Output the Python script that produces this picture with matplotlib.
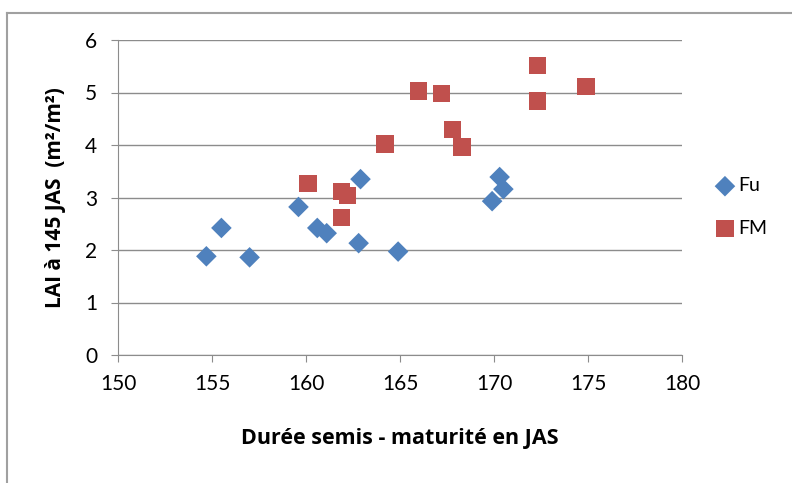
import matplotlib
matplotlib.use('Agg')
import matplotlib.pyplot as plt
from matplotlib.lines import Line2D

BLUE = '#4F81BD'; RED = '#C0504D'; GRID = '#8C8C8C'
plt.rcParams['font.family'] = ['Lato', 'DejaVu Sans']
TITLE_FONT = ['Open Sans', 'DejaVu Sans']

fu_x = [154.7, 155.5, 157.0, 159.6, 160.6, 161.1, 162.8, 162.9, 164.9, 169.9, 170.3, 170.5]
fu_y = [1.88, 2.42, 1.86, 2.82, 2.42, 2.32, 2.13, 3.35, 1.97, 2.93, 3.39, 3.16]
fm_x = [160.1, 161.9, 161.9, 162.2, 164.2, 166.0, 167.2, 167.8, 168.3, 172.3, 172.3, 174.9]
fm_y = [3.27, 3.12, 2.62, 3.04, 4.02, 5.03, 4.98, 4.29, 3.96, 5.52, 4.84, 5.11]

fig = plt.figure(figsize=(7.92, 4.83), dpi=100)
ax = fig.add_axes([118/792, 1-355/483, (682-118)/792, (355-40)/483])

ax.scatter(fu_x, fu_y, marker='D', s=110, color=BLUE, edgecolors='none', label='Fu', zorder=3)
ax.scatter(fm_x, fm_y, marker='s', s=155, color=RED, edgecolors='none', label='FM', zorder=3)

ax.set_xlim(150, 180); ax.set_ylim(0, 6)
ax.set_xticks(range(150, 181, 5)); ax.set_yticks(range(0, 7))
ax.yaxis.grid(True, color=GRID, lw=1)
ax.set_axisbelow(True)
for s in ['top', 'right']:
    ax.spines[s].set_visible(False)
for s in ['left', 'bottom']:
    ax.spines[s].set_color(GRID)
ax.tick_params(colors='black', labelsize=15, length=5, color=GRID)
ax.tick_params(axis='y', pad=10)
ax.tick_params(axis='x', pad=9)

ax.set_xlabel('Durée semis - maturité en JAS', fontsize=15.5, fontweight='bold',
              family=TITLE_FONT, labelpad=24)
ax.set_ylabel('LAI à 145 JAS  (m²/m²)', fontsize=15, fontweight='bold',
              family=TITLE_FONT, labelpad=14)

ax.legend(loc='center left', bbox_to_anchor=(1.021, 0.47), frameon=False, fontsize=14,
          labelspacing=1.3, handletextpad=0.0, handlelength=1.4, scatterpoints=1)

# outer chart frame: only top and left edges are visible in the crop
fig.add_artist(Line2D([6.5/792, 1], [1-13/483, 1-13/483], transform=fig.transFigure,
                      color='#A0A0A0', lw=1.5))
fig.add_artist(Line2D([6.5/792, 6.5/792], [0, 1-13/483], transform=fig.transFigure,
                      color='#A0A0A0', lw=1.5))
fig.savefig('out.png', dpi=100)
